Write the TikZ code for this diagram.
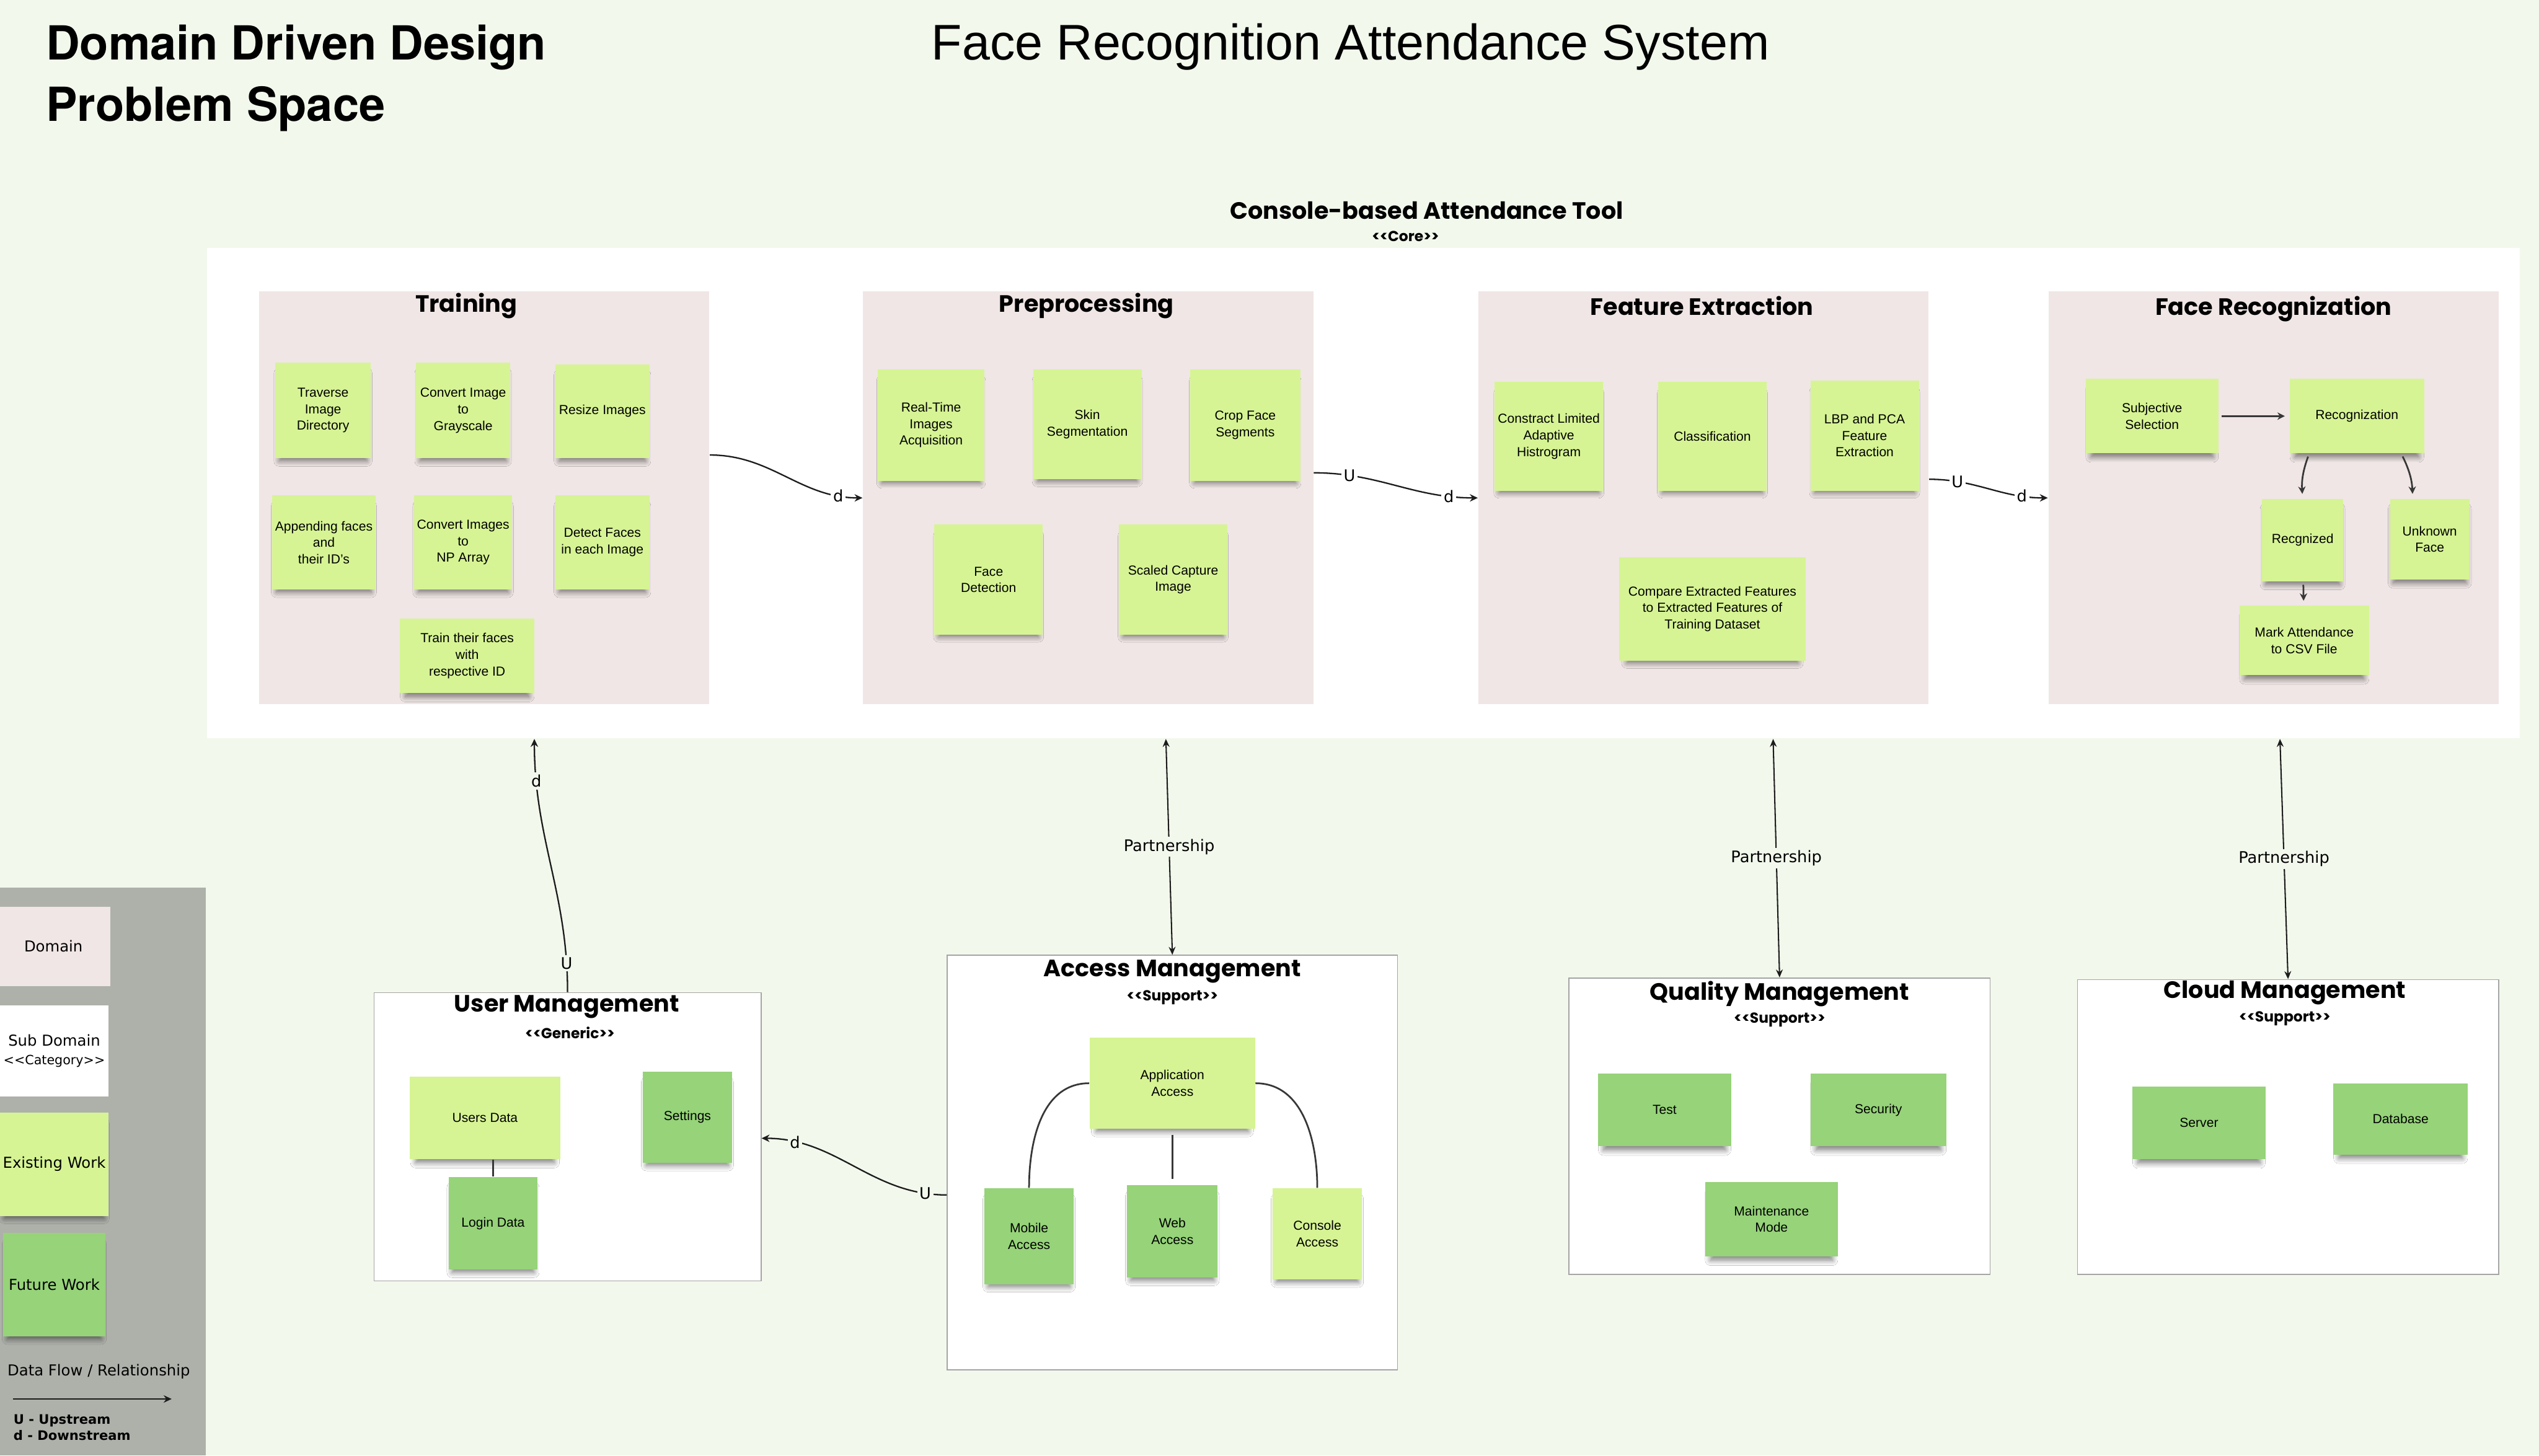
\documentclass[tikz,border=0pt]{standalone}
\usepackage{fontspec}
\setmainfont{Liberation Sans}
\newfontfamily\headfont{Poppins}
\newfontfamily\legendfont{DejaVu Sans}
\newfontfamily\titlefont{TeX Gyre Heros}
\usetikzlibrary{arrows.meta,shadows,shadows.blur,calc}

\definecolor{bgcol}{RGB}{242,248,236}
\definecolor{domaincol}{RGB}{239,230,229}
\definecolor{existcol}{RGB}{214,244,148}
\definecolor{futurecol}{RGB}{150,211,121}
\definecolor{legendcol}{RGB}{174,177,170}
\definecolor{bordergrey}{RGB}{165,165,165}
\definecolor{linecol}{RGB}{28,28,28}
\definecolor{innercol}{RGB}{55,55,55}

\tikzset{
    corebox/.style={fill=white, inner sep=0pt},
    domainbox/.style={fill=domaincol, inner sep=0pt},
    subdomain/.style={draw=bordergrey, line width=0.35pt, fill=white, inner sep=0pt},
    wh/.style 2 args={minimum width=#1*0.2mm, minimum height=#2*0.2mm},
    exist/.style={fill=existcol, inner sep=1pt, align=center, font=\fontsize{4.6}{5.8}\selectfont,
        blur shadow={shadow xshift=0pt, shadow yshift=-0.9mm, shadow scale=0.92, shadow blur radius=0.7mm, shadow blur steps=8, shadow opacity=50}},
    future/.style={exist, fill=futurecol},
    dtitle/.style={font=\headfont\bfseries\fontsize{8.3}{10}\selectfont, inner sep=0pt},
    stereo/.style={font=\headfont\bfseries\fontsize{5.1}{6}\selectfont, inner sep=0pt},
    legtext/.style={font=\legendfont\fontsize{5.3}{6.5}\selectfont},
    flow/.style={draw=linecol, line width=0.5pt, -{Stealth[length=2.8pt, width=2.6pt]}},
    partner/.style={draw=linecol, line width=0.45pt, {Stealth[length=2.8pt, width=2.4pt]}-{Stealth[length=2.8pt, width=2.4pt]}},
    inarrow/.style={draw=innercol, line width=0.6pt, -{Stealth[length=2.6pt, width=2.6pt]}, shorten <=1pt, shorten >=1.5pt},
    innerline/.style={draw=innercol, line width=0.6pt},
    lbl/.style={font=\legendfont\fontsize{5.6}{6}\selectfont, fill=white, inner sep=0.8pt},
    lblbg/.style={lbl, fill=bgcol},
}

\begin{document}
\begin{tikzpicture}[x=0.2mm, y=-0.2mm]
\fill[bgcol] (0,0) rectangle (1568,899);
\useasboundingbox (0,0) rectangle (1568,899);

\node[anchor=north west, inner sep=0pt, align=left, font=\titlefont\bfseries\fontsize{16.5}{21.6}\selectfont] (dddtitle) at (28,15) {Domain Driven Design\\Problem Space};
\node[inner sep=0pt, font=\fontsize{17.6}{20}\selectfont] (systitle) at (834,29) {Face Recognition Attendance System};

% core domain
\node[dtitle] (coretitle) at (881,130) {Console-based Attendance Tool};
\node[stereo] (corestereo) at (868,146) {<<Core>>};
\node[corebox, wh={1428}{303}] (core) at (842,304.5) {};

\node[domainbox, wh={278}{255}] (training) at (299,307.5) {};
\node[domainbox, wh={278}{255}] (prep) at (672,307.5) {};
\node[domainbox, wh={278}{255}] (feature) at (1052,307.5) {};
\node[domainbox, wh={278}{255}] (facerec) at (1404,307.5) {};
\node[dtitle] (trainingtitle) at (288,189) {Training};
\node[dtitle] (preptitle) at (671,189) {Preprocessing};
\node[dtitle] (featuretitle) at (1051,189) {Feature Extraction};
\node[dtitle] (facerectitle) at (1404,191) {Face Recognization};

\node[exist, wh={59}{59}] (traverse) at (199.5,253.5) {Traverse\\Image\\Directory};
\node[exist, wh={58}{59}] (grayscale) at (286,253.5) {Convert Image\\to\\Grayscale};
\node[exist, wh={58}{58}] (resize) at (372,254) {Resize Images};
\node[exist, wh={60}{58}] (appending) at (200,335) {Appending faces\\and\\their ID's};
\node[exist, wh={58}{58}] (nparray) at (286,335) {Convert Images\\to\\NP Array};
\node[exist, wh={58}{58}] (detect) at (372,335) {Detect Faces\\in each Image};
\node[exist, wh={83}{46}] (train) at (288.5,405) {Train their faces\\with\\respective ID};

\node[exist, wh={66}{69}] (realtime) at (575,262.5) {Real-Time\\Images\\Acquisition};
\node[exist, wh={67}{68}] (skin) at (671.5,262) {Skin\\Segmentation};
\node[exist, wh={68}{69}] (crop) at (769,262.5) {Crop Face\\Segments};
\node[exist, wh={67}{68}] (facedetect) at (610.5,358) {Face\\Detection};
\node[exist, wh={67}{68}] (scaled) at (724.5,358) {Scaled Capture\\Image};

\node[exist, wh={67}{67}] (clahe) at (956.5,269.5) {Constract Limited\\Adaptive\\Histrogram};
\node[exist, wh={67}{67}] (classify) at (1057.5,269.5) {Classification};
\node[exist, wh={67}{68}] (lbppca) at (1151.5,269) {LBP and PCA\\Feature\\Extraction};
\node[exist, wh={115}{64}] (compare) at (1057.5,376) {Compare Extracted Features\\to Extracted Features of\\Training Dataset};

\node[exist, wh={82}{46}] (subjective) at (1329,257) {Subjective\\Selection};
\node[exist, wh={83}{46}] (recog) at (1455.5,257) {Recognization};
\node[exist, wh={50}{51}] (recgnized) at (1422,333.5) {Recgnized};
\node[exist, wh={49}{50}] (unknown) at (1500.5,333) {Unknown\\Face};
\node[exist, wh={80}{43}] (mark) at (1423,395.5) {Mark Attendance\\to CSV File};
\draw[inarrow] (subjective) -- (recog);
\draw[inarrow] (recog.south -| 1426,0) to[bend right=12] (recgnized.north);
\draw[inarrow] (recog.south -| 1483,0) to[bend left=12] (unknown.north -| 1490,0);
\draw[inarrow] (recgnized) -- (mark);

% sub domains
\node[subdomain, wh={239}{178}] (usermgmt) at (350.5,702) {};
\node[dtitle] (usertitle) at (350,622) {User Management};
\node[stereo] (userstereo) at (352,638) {<<Generic>>};
\node[exist, wh={93}{51}] (usersdata) at (299.5,690.5) {Users Data};
\node[future, wh={55}{56}] (settings) at (424.5,690) {Settings};
\node[future, wh={55}{57}] (login) at (304.5,755.5) {Login Data};
\draw[innerline] (login.north) -- (login.north |- usersdata.south);

\node[subdomain, wh={278}{256}] (accessmgmt) at (724,718) {};
\node[dtitle] (accesstitle) at (724,600) {Access Management};
\node[stereo] (accessstereo) at (724,616) {<<Support>>};
\node[exist, wh={102}{56}] (appaccess) at (724,669) {Application\\Access};
\node[future, wh={55}{59}] (mobile) at (635.5,763.5) {Mobile\\Access};
\node[future, wh={56}{57}] (web) at (724,760.5) {Web\\Access};
\node[exist, wh={55}{56}] (console) at (813.5,762) {Console\\Access};
\draw[innerline] (appaccess.west) to[out=180, in=90] (mobile.north);
\draw[innerline, shorten <=2pt, shorten >=2pt] (appaccess.south) -- (web.north);
\draw[innerline] (appaccess.east) to[out=0, in=90] (console.north);

\node[subdomain, wh={260}{183}] (qualmgmt) at (1099,695.5) {};
\node[dtitle] (qualtitle) at (1099,614) {Quality Management};
\node[stereo] (qualstereo) at (1099,630) {<<Support>>};
\node[future, wh={82}{45}] (test) at (1028,685.5) {Test};
\node[future, wh={84}{45}] (security) at (1160,685.5) {Security};
\node[future, wh={82}{46}] (maintenance) at (1094,753) {Maintenance\\Mode};

\node[subdomain, wh={260}{182}] (cloudmgmt) at (1413,696) {};
\node[dtitle] (cloudtitle) at (1411,613) {Cloud Management};
\node[stereo] (cloudstereo) at (1411,629) {<<Support>>};
\node[future, wh={82}{45}] (server) at (1358,693.5) {Server};
\node[future, wh={83}{44}] (database) at (1482.5,691) {Database};

% relationships
\draw[flow] (training.east |- 0,281) to[out=0, in=180] node[pos=0.86, lbl] {d} (prep.west);
\draw[flow] (prep.east |- 0,292) to[out=0, in=180] node[pos=0.2, lbl] {U} node[pos=0.84, lbl] {d} (feature.west);
\draw[flow] (feature.east |- 0,296) to[out=0, in=180] node[pos=0.22, lbl] {U} node[pos=0.8, lbl] {d} (facerec.west);
\draw[flow] (usermgmt.north) to[out=90, in=-90] node[pos=0.1, lblbg] {U} node[pos=0.85, lblbg] {d} (core.south -| 330,0);
\draw[partner] (accessmgmt.north) -- node[lblbg] {Partnership} (core.south -| 720,0);
\draw[partner] (qualmgmt.north) -- node[lblbg] {Partnership} (core.south -| 1095,0);
\draw[partner] (cloudmgmt.north) -- node[lblbg] {Partnership} (core.south -| 1408,0);
\draw[flow] (accessmgmt.west |- 0,738) to[out=180, in=0] node[pos=0.1, lblbg] {U} node[pos=0.84, lblbg] {d} (usermgmt.east |- 0,703);

% legend
\node[fill=legendcol, inner sep=0pt, wh={127}{351}] (legend) at (63.5,723.5) {};
\node[domainbox, wh={70}{49}, legtext] (legdomain) at (33,584.5) {Domain};
\node[corebox, wh={67}{56}, align=center, legtext] (legsub) at (33.5,649) {Sub Domain\\{\fontsize{4.5}{6.5}\selectfont <<Category>>}};
\node[exist, wh={63}{64}, legtext] (legexist) at (33.5,719) {Existing Work};
\node[future, wh={63}{64}, legtext] (legfuture) at (33.5,793.5) {Future Work};
\node[legtext] (legflow) at (61,847) {Data Flow / Relationship};
\coordinate (flowstart) at (8,864);
\coordinate (flowend) at (106,864);
\draw[flow] (flowstart) -- (flowend);
\node[anchor=west, align=left, inner sep=0pt, font=\legendfont\bfseries\fontsize{4.6}{5.6}\selectfont] (legud) at (8,881.5) {U - Upstream\\d - Downstream};

\end{tikzpicture}
\end{document}
